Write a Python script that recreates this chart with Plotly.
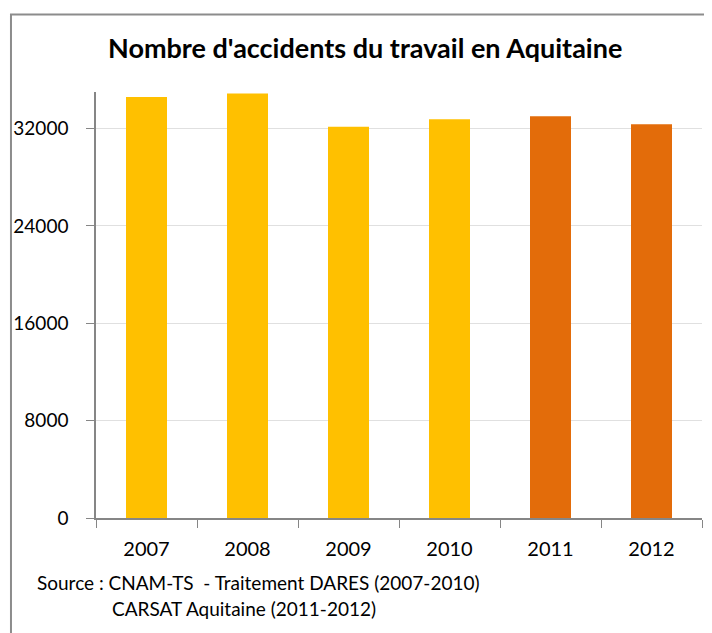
import plotly.graph_objects as go

years = ["2007", "2008", "2009", "2010", "2011", "2012"]
accidents = [34580, 34880, 32140, 32770, 33010, 32350]
bar_colors = ["#FFC000", "#FFC000", "#FFC000", "#FFC000", "#E36C0A", "#E36C0A"]
y_ticks = [0, 8000, 16000, 24000, 32000]
source_lines = [
    "Source : CNAM-TS  - Traitement DARES (2007-2010)",
    "CARSAT Aquitaine (2011-2012)",
]

font_family = "Lato, sans-serif"

fig = go.Figure(
    go.Bar(
        x=years,
        y=accidents,
        marker=dict(color=bar_colors, line=dict(width=0)),
        hoverinfo="x+y",
    )
)

# cadre du graphique
fig.add_shape(
    type="rect", xref="paper", yref="paper",
    x0=-0.1403, x1=1.0132, y0=-0.35, y1=1.182,
    line=dict(color="#8c8c8c", width=2), layer="below",
)

fig.add_annotation(
    text="<b>Nombre d'accidents du travail en Aquitaine</b>",
    xref="paper", yref="paper", x=0.4439, y=1.1056, yanchor="middle",
    showarrow=False,
    font=dict(size=27, color="black", family=font_family),
)
fig.add_annotation(
    text=source_lines[0],
    xref="paper", yref="paper", x=-0.1007, y=-0.1514, xanchor="left", yanchor="middle",
    showarrow=False, font=dict(size=19, color="black", family=font_family),
)
fig.add_annotation(
    text=source_lines[1],
    xref="paper", yref="paper", x=0.0231, y=-0.2124, xanchor="left", yanchor="middle",
    showarrow=False, font=dict(size=19, color="black", family=font_family),
)

fig.update_layout(
    width=712, height=633,
    margin=dict(l=88, r=18, t=84, b=123),
    paper_bgcolor="white", plot_bgcolor="white",
    bargap=0.594, showlegend=False,
    font=dict(family=font_family, color="black"),
    xaxis=dict(
        showline=True, linecolor="#868686", linewidth=1.5, automargin=False,
        ticks="outside", tickson="boundaries", ticklen=8, tickcolor="#868686",
        tickfont=dict(size=20), showgrid=False, ticklabelstandoff=12,
    ),
    yaxis=dict(
        range=[0, 35000], tickvals=y_ticks, ticktext=[str(v) for v in y_ticks],
        showline=True, linecolor="#868686", linewidth=1.5, automargin=False,
        ticks="outside", ticklen=8, tickcolor="#868686",
        showgrid=True, gridcolor="#e0e0e0", gridwidth=1,
        tickfont=dict(size=19), zeroline=False, ticklabelstandoff=14,
    ),
)

fig.write_html("out.html")
